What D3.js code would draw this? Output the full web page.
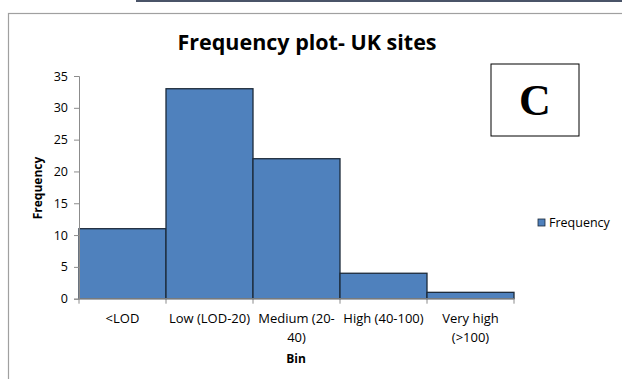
<!DOCTYPE html>
<html>
<head>
<meta charset="utf-8">
<script src="https://cdn.jsdelivr.net/npm/d3@7/dist/d3.min.js"></script>
<style>
  html, body { margin: 0; padding: 0; background: #fff; }
  svg { display: block; }
  text { font-family: "Open Sans", "Noto Sans", sans-serif; fill: #000; }
</style>
</head>
<body>
<svg id="chart" width="622" height="379"></svg>
<script>
// Frequency counts per concentration bin
const bins = ["<LOD", "Low (LOD-20)", "Medium (20-40)", "High (40-100)", "Very high (>100)"];
const binLines = [["<LOD"], ["Low (LOD-20)"], ["Medium (20-", "40)"], ["High (40-100)"], ["Very high", "(>100)"]];
const frequency = [11, 33, 22, 4, 1];
const yTicks = [0, 5, 10, 15, 20, 25, 30, 35];

const svg = d3.select("#chart");

// page frame: strip at the top and the chart border
svg.append("rect").attr("x", 136).attr("y", 0).attr("width", 486).attr("height", 2).attr("fill", "#4a5468");
svg.append("rect").attr("x", 8.5).attr("y", 13.5).attr("width", 620).attr("height", 380)
  .attr("fill", "none").attr("stroke", "#a0a0a0").attr("stroke-width", 1.2);

const plot = { left: 79, right: 514, top: 76, bottom: 298.7 };

const x = d3.scaleBand().domain(bins).range([plot.left, plot.right]).padding(0);
const y = d3.scaleLinear().domain([0, 35]).range([plot.bottom, plot.top]);

// bars
svg.append("g").selectAll("rect").data(frequency).join("rect")
  .attr("x", (d, i) => x(bins[i]))
  .attr("y", d => y(d))
  .attr("width", x.bandwidth())
  .attr("height", d => y(0) - y(d))
  .attr("fill", "#4f81bd")
  .attr("stroke", "#1c2a3a")
  .attr("stroke-width", 1.3);

// y axis
const yAxis = svg.append("g").attr("transform", `translate(${plot.left},0)`)
  .call(d3.axisLeft(y).tickValues(yTicks).tickSize(5).tickPadding(6));
yAxis.select(".domain").attr("stroke", "#8c8c8c");
yAxis.selectAll(".tick line").attr("stroke", "#8c8c8c");
yAxis.selectAll(".tick text").style("font-size", "12.5px").style("font-family", "'Open Sans', sans-serif");

// x axis
svg.append("line").attr("x1", plot.left).attr("x2", plot.right)
  .attr("y1", plot.bottom).attr("y2", plot.bottom).attr("stroke", "#8c8c8c");
const edges = bins.map(b => x(b)).concat([x(bins[bins.length - 1]) + x.bandwidth()]);
svg.append("g").selectAll("line").data(edges).join("line")
  .attr("x1", d => d).attr("x2", d => d)
  .attr("y1", plot.bottom).attr("y2", plot.bottom + 5)
  .attr("stroke", "#8c8c8c");

// category labels
const lab = svg.append("g");
binLines.forEach((lines, i) => {
  const cx = x(bins[i]) + x.bandwidth() / 2;
  const t = lab.append("text")
    .attr("x", cx)
    .attr("y", 323)
    .attr("text-anchor", "middle")
    .style("font-size", "13px");
  lines.forEach((l, j) => t.append("tspan").attr("x", cx).attr("dy", j ? 19 : 0).text(l));
});

// axis titles
svg.append("text").attr("x", 296).attr("y", 363).attr("text-anchor", "middle")
  .style("font-size", "12px").style("font-weight", "bold").text("Bin");
svg.append("text").attr("transform", "translate(42,188) rotate(-90)").attr("text-anchor", "middle")
  .style("font-size", "12px").style("font-weight", "bold").text("Frequency");

// chart title
svg.append("text").attr("x", 307).attr("y", 50).attr("text-anchor", "middle")
  .style("font-size", "21.5px").style("font-weight", "bold").text("Frequency plot- UK sites");

// panel letter
svg.append("rect").attr("x", 491).attr("y", 64).attr("width", 88).attr("height", 72)
  .attr("fill", "#fff").attr("stroke", "#000").attr("stroke-width", 1);
svg.append("text").attr("x", 535).attr("y", 115).attr("text-anchor", "middle")
  .style("font-family", "'Liberation Serif', 'DejaVu Serif', serif")
  .style("font-size", "44px").style("font-weight", "bold").text("C");

// legend
svg.append("rect").attr("x", 538).attr("y", 219).attr("width", 7).attr("height", 7)
  .attr("fill", "#4f81bd").attr("stroke", "#1c2a3a").attr("stroke-width", 0.8);
svg.append("text").attr("x", 549).attr("y", 227).style("font-size", "12.5px").text("Frequency");
</script>
</body>
</html>
